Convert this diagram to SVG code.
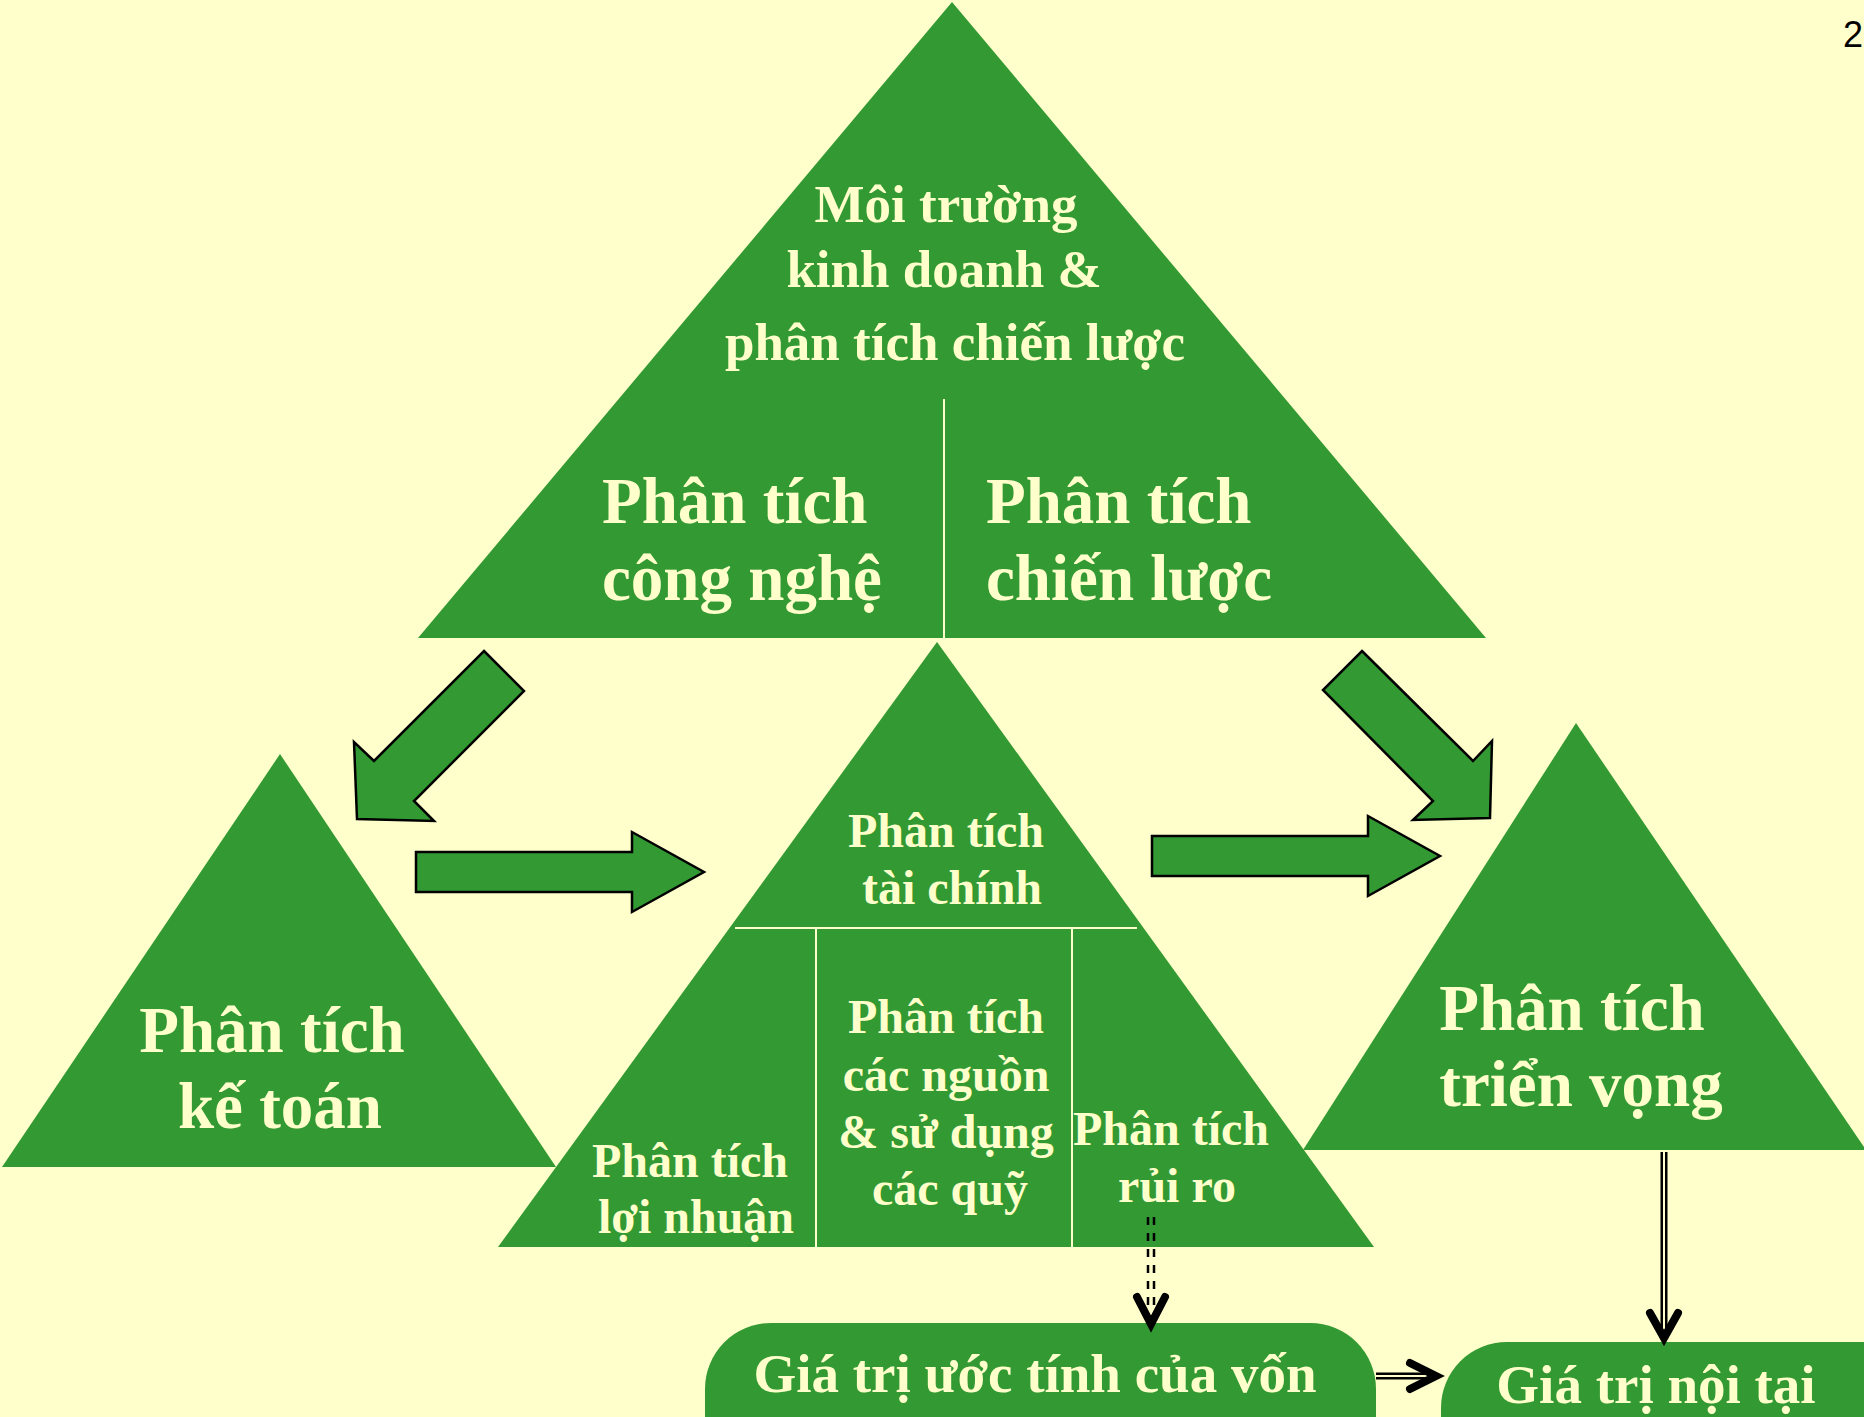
<svg xmlns="http://www.w3.org/2000/svg" width="1864" height="1417" viewBox="0 0 1864 1417">
<style>
.g{fill:#339933}
.t{fill:#FFFFCC;font-family:"Liberation Serif","Times New Roman",serif;font-weight:bold;text-anchor:middle}
.sep{stroke:#FFFFCC;stroke-width:2;fill:none}
.blk{fill:#339933;stroke:#000;stroke-width:2.5;stroke-linejoin:miter}
.head{fill:none;stroke:#000;stroke-width:8;stroke-linecap:round;stroke-linejoin:miter}
</style>
<rect width="1864" height="1417" fill="#FFFFCC"/>
<text x="1843" y="47" font-family="Liberation Sans, Arial, sans-serif" font-size="36" fill="#000">2</text>

<g id="top-triangle">
<polygon class="g" points="952,2 1486,638 418,638"/>
<line class="sep" x1="944" y1="399" x2="944" y2="638"/>
<text class="t" font-size="53" x="946" y="222">Môi trường</text>
<text class="t" font-size="53" x="944" y="287">kinh doanh &amp;</text>
<text class="t" font-size="53" x="955" y="360">phân tích chiến lược</text>
<text class="t" font-size="65" x="602" y="523" style="text-anchor:start">Phân tích</text>
<text class="t" font-size="65" x="602" y="600" style="text-anchor:start">công nghệ</text>
<text class="t" font-size="65" x="986" y="523" style="text-anchor:start">Phân tích</text>
<text class="t" font-size="65" x="986" y="600" style="text-anchor:start">chiến lược</text>
</g>

<g id="accounting-triangle">
<polygon class="g" points="280,754 556,1167 2,1167"/>
<text class="t" font-size="65" x="272" y="1052">Phân tích</text>
<text class="t" font-size="65" x="280" y="1128">kế toán</text>
</g>

<g id="financial-triangle">
<polygon class="g" points="937,642 1374,1247 498,1247"/>
<line class="sep" x1="735" y1="928" x2="1137" y2="928"/>
<line class="sep" x1="816" y1="929" x2="816" y2="1247"/>
<line class="sep" x1="1072" y1="929" x2="1072" y2="1247"/>
<line class="sep" x1="847" y1="1248" x2="1056" y2="1248"/>
<text class="t" font-size="48" x="946" y="847">Phân tích</text>
<text class="t" font-size="48" x="952" y="904">tài chính</text>
<text class="t" font-size="48" x="946" y="1033">Phân tích</text>
<text class="t" font-size="48" x="946" y="1091">các nguồn</text>
<text class="t" font-size="48" x="946" y="1148">&amp; sử dụng</text>
<text class="t" font-size="48" x="950" y="1205">các quỹ</text>
<text class="t" font-size="48" x="690" y="1177">Phân tích</text>
<text class="t" font-size="48" x="696" y="1233">lợi nhuận</text>
<text class="t" font-size="48" x="1171" y="1145">Phân tích</text>
<text class="t" font-size="48" x="1177" y="1202">rủi ro</text>
</g>

<g id="prospective-triangle">
<polygon class="g" points="1576,723 1866,1150 1303,1150"/>
<text class="t" font-size="65" x="1572" y="1030">Phân tích</text>
<text class="t" font-size="65" x="1581" y="1106">triển vọng</text>
</g>

<g id="equity-value">
<rect class="g" x="705" y="1323" width="671" height="160" rx="66" ry="66"/>
<text class="t" font-size="55" x="1035" y="1392">Giá trị ước tính của vốn</text>
</g>

<g id="intrinsic-value">
<rect class="g" x="1441" y="1342" width="500" height="150" rx="66" ry="66"/>
<text class="t" font-size="55" x="1656" y="1403">Giá trị nội tại</text>
</g>

<g id="connectors">
<polygon class="blk" points="484,651 524,691 414,801 434,821 357,819 354,742 374,761"/>
<polygon class="blk" points="1362,651 1473,761 1492,741 1490,818 1413,820 1433,801 1323,690"/>
<polygon class="blk" points="416,852 632,852 632,832 704,872 632,912 632,892 416,892"/>
<polygon class="blk" points="1152,836 1368,836 1368,816 1440,856 1368,896 1368,876 1152,876"/>
<g stroke="#000" stroke-width="2.5" stroke-dasharray="8 8">
<line x1="1148" y1="1217" x2="1148" y2="1318"/>
<line x1="1154" y1="1217" x2="1154" y2="1318"/>
</g>
<polyline class="head" points="1137,1297 1151,1324 1165,1297"/>
<line x1="1664" y1="1152" x2="1664" y2="1334" stroke="#000" stroke-width="7"/>
<line x1="1664" y1="1152" x2="1664" y2="1330" stroke="#FFFFCC" stroke-width="2"/>
<polyline class="head" points="1650,1313 1664,1338 1678,1313"/>
<line x1="1376" y1="1376" x2="1433" y2="1376" stroke="#000" stroke-width="7"/>
<line x1="1376" y1="1376" x2="1428" y2="1376" stroke="#FFFFCC" stroke-width="2"/>
<polyline class="head" points="1410,1363 1436,1376 1410,1389"/>
</g>
</svg>
